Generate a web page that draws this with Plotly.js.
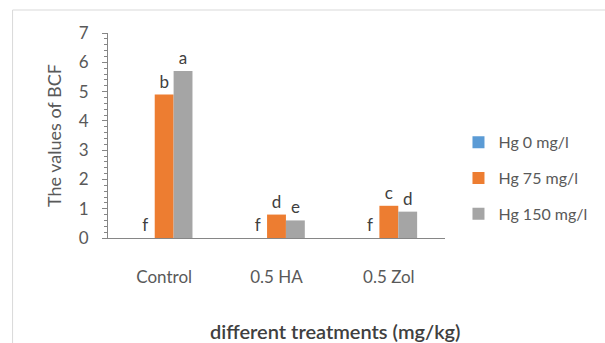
<!DOCTYPE html>
<html>
<head>
<meta charset="utf-8">
<script src="https://cdn.plot.ly/plotly-3.0.1.min.js"></script>
<style>html,body{margin:0;padding:0;background:#fff;}#chart{width:605px;height:343px;}</style>
</head>
<body>
<div id="chart"></div>
<script>
const categories = ["Control", "0.5 HA", "0.5 Zol"];
const seriesNames = ["Hg 0 mg/l", "Hg 75 mg/l", "Hg 150 mg/l"];
const hg0 = [0, 0, 0];
const hg75 = [4.9, 0.8, 1.1];
const hg150 = [5.7, 0.6, 0.9];
const letters0 = ["f", "f", "f"];
const letters75 = ["b", "d", "c"];
const letters150 = ["a", "e", "d"];
const colors = ["#5B9BD5", "#ED7D31", "#A5A5A5"];
const xTitle = "different treatments (mg/kg)";
const yTitle = "The values of BCF";

const values = [hg0, hg75, hg150];
const letters = [letters0, letters75, letters150];

const traces = values.map((v, i) => ({
  type: "bar",
  name: seriesNames[i],
  x: categories,
  y: v,
  text: letters[i],
  textposition: "outside",
  textfont: {family: "Lato, sans-serif", size: 17, color: "#404040"},
  cliponaxis: false,
  marker: {color: colors[i]},
  legendgroup: "g" + i,
  hoverinfo: "skip"
}));

const layout = {
  width: 605, height: 343,
  margin: {l: 108, r: 158, t: 33, b: 105},
  paper_bgcolor: "#fff", plot_bgcolor: "#fff",
  barmode: "group", bargap: 0.496, bargroupgap: 0,
  font: {family: "Lato, sans-serif", color: "#595959"},
  showlegend: true,
  legend: {x: 1.04, xanchor: "left", y: 0.55, yanchor: "top",
    font: {family: "Lato, sans-serif", size: 16, color: "#595959"},
    tracegroupgap: 12, itemwidth: 30},
  xaxis: {
    showline: true, linecolor: "#868686", linewidth: 1,
    ticks: "", showgrid: false, zeroline: false,
    tickfont: {size: 17, color: "#595959"},
    ticklabelstandoff: 24
  },
  yaxis: {
    range: [0, 7], dtick: 1, showline: true, linecolor: "#868686", linewidth: 1,
    ticks: "outside", ticklen: 5, tickcolor: "#868686",
    minor: {dtick: 0.2, ticks: "outside", ticklen: 3, tickcolor: "#868686", showgrid: false},
    showgrid: false, zeroline: false,
    tickfont: {size: 17, color: "#595959"},
    ticklabelstandoff: 10,
    title: {text: yTitle, font: {size: 18, color: "#595959"}, standoff: 12}
  },
  annotations: [
    {text: xTitle, xref: "paper", yref: "paper", x: (337-108)/339, y: (238-331)/205,
     xanchor: "center", yanchor: "middle", showarrow: false,
     font: {family: "Lato, sans-serif", size: 20, color: "#404040", weight: 600}}
  ],
  shapes: [
    {type: "line", xref: "paper", yref: "paper", x0: (12-108)/339, x1: (610-108)/339, y0: (238-10)/205, y1: (238-10)/205, line: {color: "#d9d9d9", width: 1}},
    {type: "line", xref: "paper", yref: "paper", x0: (12-108)/339, x1: (12-108)/339, y0: (238-10)/205, y1: (238-350)/205, line: {color: "#d9d9d9", width: 1}}
  ]
};

Plotly.newPlot("chart", traces, layout, {displayModeBar: false, staticPlot: true});
</script>
</body>
</html>
